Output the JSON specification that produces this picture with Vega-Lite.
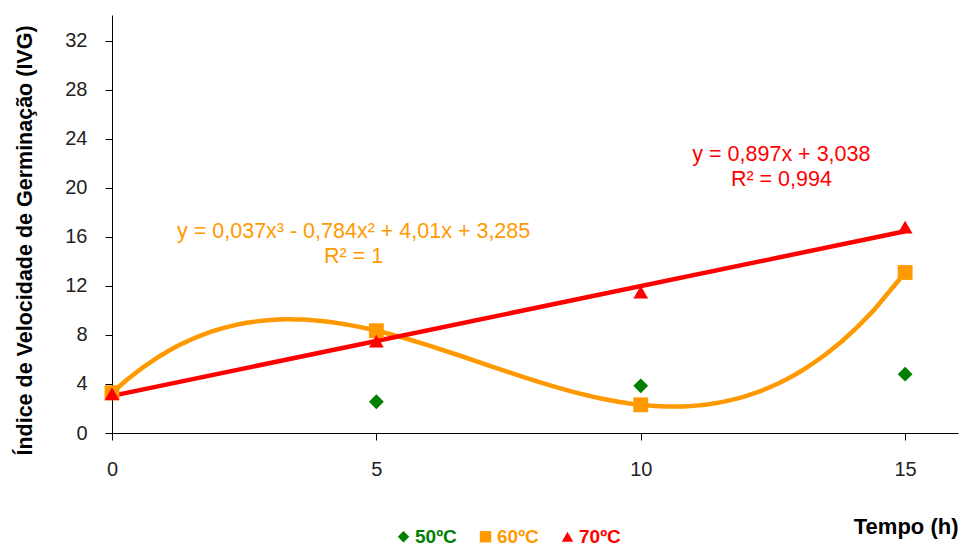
{
  "$schema": "https://vega.github.io/schema/vega-lite/v6.json",
  "width": 846,
  "height": 418,
  "autosize": {"type": "none"},
  "padding": {"left": 112, "top": 15, "right": 3, "bottom": 115},
  "background": "white",
  "config": {
    "view": {"stroke": null},
    "font": "Liberation Sans",
    "axis": {
      "grid": false,
      "domainColor": "#000000",
      "tickColor": "#000000",
      "domainWidth": 1,
      "tickWidth": 1,
      "tickSize": 7,
      "labelFont": "Liberation Sans",
      "labelFontSize": 20,
      "labelColor": "#222222",
      "titleFont": "Liberation Sans",
      "titleFontWeight": "bold",
      "titleColor": "#000000"
    }
  },
  "datasets": {
    "ivg": [
      {"tempo": 5, "ivg": 2.55, "temperatura": "50ºC"},
      {"tempo": 10, "ivg": 3.85, "temperatura": "50ºC"},
      {"tempo": 15, "ivg": 4.8, "temperatura": "50ºC"},
      {"tempo": 0, "ivg": 3.285, "temperatura": "60ºC"},
      {"tempo": 5, "ivg": 8.35, "temperatura": "60ºC"},
      {"tempo": 10, "ivg": 2.3, "temperatura": "60ºC"},
      {"tempo": 15, "ivg": 13.1, "temperatura": "60ºC"},
      {"tempo": 0, "ivg": 3.2, "temperatura": "70ºC"},
      {"tempo": 5, "ivg": 7.5, "temperatura": "70ºC"},
      {"tempo": 10, "ivg": 11.5, "temperatura": "70ºC"},
      {"tempo": 15, "ivg": 16.8, "temperatura": "70ºC"}
    ],
    "equacoes": [
      {"tempo": 4.57, "ivg": 16.4, "temperatura": "60ºC", "texto": "y = 0,037x³ - 0,784x² + 4,01x + 3,285"},
      {"tempo": 4.57, "ivg": 14.37, "temperatura": "60ºC", "texto": "R² = 1"},
      {"tempo": 12.66, "ivg": 22.7, "temperatura": "70ºC", "texto": "y = 0,897x  + 3,038"},
      {"tempo": 12.66, "ivg": 20.65, "temperatura": "70ºC", "texto": "R² = 0,994"}
    ]
  },
  "encoding": {
    "x": {
      "field": "tempo",
      "type": "quantitative",
      "scale": {"domain": [0, 16], "nice": false, "zero": false},
      "axis": {
        "values": [0, 5, 10, 15],
        "labelPadding": 19,
        "labelFlush": false,
        "title": "Tempo (h)",
        "titleFontSize": 22,
        "titleAnchor": "end",
        "titleAlign": "right",
        "titleBaseline": "alphabetic",
        "titleX": 846,
        "titleY": 100
      }
    },
    "y": {
      "field": "ivg",
      "type": "quantitative",
      "scale": {"domain": [0, 34.12], "nice": false},
      "axis": {
        "values": [0, 4, 8, 12, 16, 20, 24, 28, 32],
        "labelPadding": 18,
        "labelFlush": false,
        "title": "Índice de Velocidade  de Germinação (IVG)",
        "titleFontSize": 21.5,
        "titleBaseline": "alphabetic",
        "titleX": -81,
        "titleY": 225
      }
    }
  },
  "layer": [
    {
      "data": {"name": "ivg"},
      "transform": [
        {"filter": "datum.temperatura === '60ºC'"},
        {"regression": "ivg", "on": "tempo", "method": "poly", "order": 3}
      ],
      "mark": {"type": "line", "stroke": "#FF9900", "strokeWidth": 4.5, "strokeCap": "round"},
      "encoding": {}
    },
    {
      "data": {"name": "ivg"},
      "transform": [
        {"filter": "datum.temperatura === '70ºC'"},
        {"regression": "ivg", "on": "tempo", "method": "linear"}
      ],
      "mark": {"type": "line", "stroke": "#FF0000", "strokeWidth": 4.5, "strokeCap": "butt"},
      "encoding": {}
    },
    {
      "data": {"name": "ivg"},
      "mark": {"type": "point", "filled": true, "size": 220, "opacity": 1},
      "encoding": {
        "color": {
          "field": "temperatura",
          "type": "nominal",
          "scale": {"domain": ["50ºC", "60ºC", "70ºC"], "range": ["#008000", "#FF9900", "#FF0000"]},
          "legend": {
            "orient": "none",
            "legendX": 282,
            "legendY": 512,
            "direction": "horizontal",
            "title": null,
            "labelFont": "Liberation Sans",
            "labelFontSize": 19,
            "labelFontWeight": "bold",
            "labelColor": {"expr": "datum.value === '50ºC' ? '#008000' : datum.value === '60ºC' ? '#FF9900' : '#FF0000'"},
            "labelOffset": 2,
            "symbolSize": 130,
            "symbolOpacity": 1,
            "symbolStrokeWidth": 0,
            "columnPadding": 19
          }
        },
        "shape": {
          "field": "temperatura",
          "type": "nominal",
          "scale": {"domain": ["50ºC", "60ºC", "70ºC"], "range": ["diamond", "square", "triangle-up"]},
          "legend": {
            "orient": "none",
            "legendX": 282,
            "legendY": 512,
            "direction": "horizontal",
            "title": null,
            "labelFont": "Liberation Sans",
            "labelFontSize": 19,
            "labelFontWeight": "bold",
            "labelColor": {"expr": "datum.value === '50ºC' ? '#008000' : datum.value === '60ºC' ? '#FF9900' : '#FF0000'"},
            "labelOffset": 2,
            "symbolSize": 130,
            "symbolOpacity": 1,
            "symbolStrokeWidth": 0,
            "columnPadding": 19
          }
        }
      }
    },
    {
      "data": {"name": "equacoes"},
      "mark": {"type": "text", "font": "Liberation Sans", "fontSize": 21.5, "align": "center", "baseline": "middle"},
      "encoding": {
        "text": {"field": "texto"},
        "color": {"field": "temperatura", "type": "nominal", "legend": null}
      }
    }
  ]
}
